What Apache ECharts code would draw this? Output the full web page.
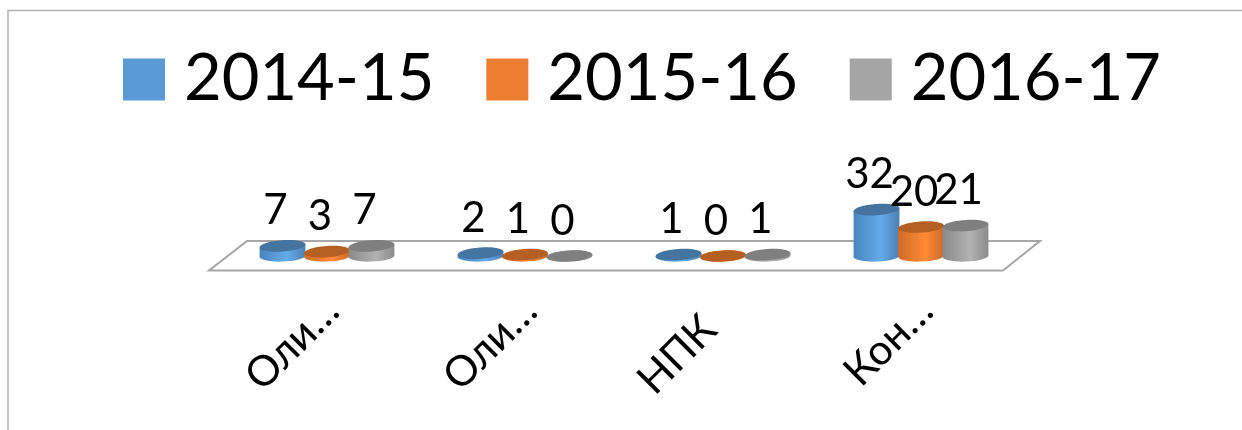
<!DOCTYPE html>
<html><head><meta charset="utf-8">
<style>html,body{margin:0;padding:0;background:#fff}#c{width:1242px;height:430px}</style>
<script src="https://cdn.jsdelivr.net/npm/echarts@6/dist/echarts.min.js"></script>
</head><body><div id="c"></div>
<script>
const categories = ['Оли…', 'Оли…', 'НПК', 'Кон…'];
const seriesNames = ['2014-15', '2015-16', '2016-17'];
const values2014 = [7, 2, 1, 32];
const values2015 = [3, 1, 0, 20];
const values2016 = [7, 0, 1, 21];
const allValues = [values2014, values2015, values2016];
const flatColors = ['#5b9bd5', '#ed7d31', '#a5a5a5'];
const topColors = ['#44749f', '#b55f23', '#7f7f7f'];
const bodyStops = [
  ['#4a85bd', '#64abeb', '#4b80b3'],
  ['#cf6c27', '#ff8a36', '#c96a28'],
  ['#8a8a8a', '#b2b2b2', '#8c8c8c']
];
const FONT = 'Lato, "Open Sans", sans-serif';
const chart = echarts.init(document.getElementById('c'), null, {renderer: 'canvas'});

function cylinder(idx) {
  return function (params, api) {
    const cat = api.value(0), val = api.value(1);
    const band = api.size([1, 0])[0];
    const base = api.coord([cat, 0]), top = api.coord([cat, val]);
    const step = band * 0.2247, rx = band * 0.116, ry = 5.6, tilt = 0.07;
    const cx = base[0] + (idx - 1) * step;
    const dx = rx * Math.cos(tilt), dy = rx * Math.sin(tilt);
    const fill = {type: 'linear', x: 0, y: 0, x2: 1, y2: 0, colorStops: [
      {offset: 0, color: bodyStops[idx][0]},
      {offset: 0.6, color: bodyStops[idx][1]},
      {offset: 1, color: bodyStops[idx][2]}
    ]};
    return {type: 'group', children: [
      {type: 'ellipse', x: cx, y: base[1], rotation: tilt * 0.5,
        shape: {cx: 0, cy: 0, rx: rx, ry: ry}, style: {fill: fill}},
      {type: 'polygon', shape: {points: [
        [cx - dx, top[1] + dy], [cx + dx, top[1] - dy],
        [cx + dx, base[1] - dy * 0.5], [cx - dx, base[1] + dy * 0.5]]}, style: {fill: fill}},
      {type: 'ellipse', x: cx, y: top[1], rotation: tilt,
        shape: {cx: 0, cy: 0, rx: rx, ry: ry}, style: {fill: topColors[idx]}},
      {type: 'text', z2: 50, x: cx - 7, y: top[1] - 35,
        style: {text: String(val), font: '42px ' + FONT, fill: '#000', align: 'center', verticalAlign: 'middle'}}
    ]};
  };
}

chart.setOption({
  animation: false,
  backgroundColor: '#fff',
  legend: {
    left: 123, top: 47, padding: 0, itemWidth: 42, itemHeight: 42, itemGap: 52,
    icon: 'rect', data: seriesNames,
    textStyle: {fontFamily: FONT, fontSize: 65, color: '#000', padding: [0, 0, 0, 14]}
  },
  grid: [
    {left: 228, right: 222, top: 198, bottom: 174},
    {left: 233, right: 217, top: 198, bottom: 174}
  ],
  xAxis: [
    {type: 'category', gridIndex: 0, data: categories,
      axisLine: {show: false}, axisTick: {show: false}, axisLabel: {show: false}},
    {type: 'category', gridIndex: 1,
      data: categories.map(c => c === 'НПК' ? {value: c, textStyle: {padding: [0, 26, 0, 0]}} : c),
      axisLine: {show: false}, axisTick: {show: false},
      axisLabel: {interval: 0, rotate: 45, margin: 48, fontFamily: FONT, fontSize: 42, color: '#000'}}
  ],
  yAxis: [
    {type: 'value', gridIndex: 0, min: 0, max: 40, show: false, splitLine: {show: false}},
    {type: 'value', gridIndex: 1, min: 0, max: 40, show: false, splitLine: {show: false}}
  ],
  graphic: [
    {type: 'polyline', silent: true, shape: {points: [[8, 430], [8, 10.5], [1242, 10.5]]},
      style: {stroke: '#b4b4b4', lineWidth: 1.5, fill: null}},
    {type: 'polygon', silent: true, shape: {points: [[247, 241], [1040, 241], [1003, 270.5], [209, 270.5]]},
      style: {stroke: '#a6a6a6', lineWidth: 2, fill: '#fff'}}
  ],
  series: seriesNames.map((name, i) => ({
    type: 'custom', name: name,
    itemStyle: {color: flatColors[i]},
    renderItem: cylinder(i),
    encode: {x: 0, y: 1},
    data: allValues[i].map((v, k) => [k, v])
  }))
});
</script></body></html>
